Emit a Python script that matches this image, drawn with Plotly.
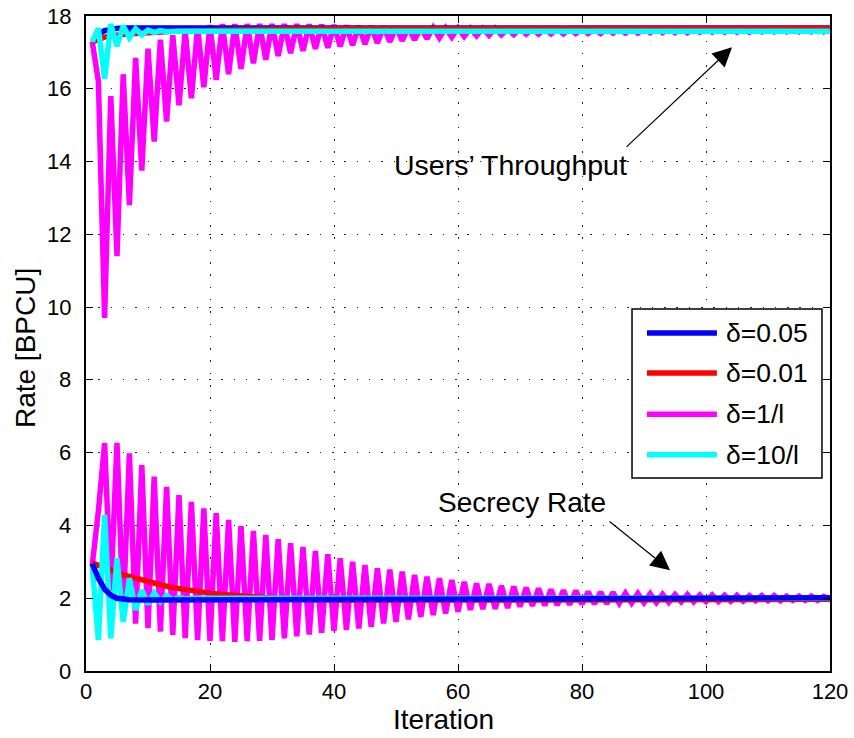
import plotly.graph_objects as go

# Iteration index for the oscillating (full-length) series
iterations = list(range(1, 121))

# delta = 1/l : secrecy rate per iteration
secrecy_inv_l = [
    2.90, 4.40, 6.26, 2.20, 6.27, 1.60, 5.98, 1.30, 5.66, 1.18,
    5.34, 1.08, 5.06, 0.99, 4.83, 0.90, 4.65, 0.85, 4.47, 0.83,
    4.34, 0.82, 4.15, 0.80, 3.98, 0.82, 3.85, 0.83, 3.74, 0.85,
    3.62, 0.90, 3.51, 0.95, 3.41, 1.00, 3.30, 1.05, 3.21, 1.10,
    3.10, 1.13, 3.00, 1.17, 2.91, 1.22, 2.82, 1.31, 2.79, 1.35,
    2.73, 1.42, 2.64, 1.49, 2.59, 1.54, 2.55, 1.58, 2.50, 1.63,
    2.45, 1.68, 2.41, 1.70, 2.39, 1.71, 2.34, 1.73, 2.32, 1.77,
    2.29, 1.79, 2.27, 1.80, 2.24, 1.81, 2.22, 1.82, 2.21, 1.83,
    2.18, 1.84, 2.17, 1.85, 2.16, 1.86, 2.14, 1.87, 2.13, 1.88,
    2.12, 1.88, 2.11, 1.89, 2.10, 1.90, 2.10, 1.90, 2.09, 1.91,
    2.09, 1.91, 2.08, 1.92, 2.08, 1.92, 2.07, 1.93, 2.07, 1.93,
    2.07, 1.93, 2.06, 1.94, 2.06, 1.94, 2.06, 1.94, 2.05, 1.95,
]

# delta = 1/l : users' throughput per iteration
throughput_inv_l = [
    17.30, 16.20, 9.70, 15.80, 11.40, 16.40, 12.80, 16.85, 13.75, 17.10,
    14.55, 17.35, 15.10, 17.47, 15.55, 17.60, 15.74, 17.70, 16.04, 17.75,
    16.24, 17.78, 16.40, 17.78, 16.55, 17.78, 16.70, 17.78, 16.80, 17.78,
    16.90, 17.78, 16.98, 17.78, 17.04, 17.77, 17.10, 17.76, 17.13, 17.75,
    17.16, 17.74, 17.20, 17.73, 17.23, 17.72, 17.26, 17.71, 17.29, 17.70,
    17.32, 17.69, 17.35, 17.68, 17.38, 17.68, 17.40, 17.67, 17.42, 17.67,
    17.44, 17.66, 17.46, 17.66, 17.47, 17.66, 17.48, 17.65, 17.49, 17.65,
    17.50, 17.65, 17.50, 17.65, 17.51, 17.65, 17.51, 17.65, 17.52, 17.65,
    17.52, 17.65, 17.52, 17.65, 17.53, 17.65, 17.53, 17.65, 17.53, 17.65,
    17.54, 17.65, 17.54, 17.65, 17.54, 17.65, 17.54, 17.65, 17.55, 17.65,
    17.55, 17.65, 17.55, 17.65, 17.55, 17.65, 17.55, 17.65, 17.56, 17.65,
    17.56, 17.65, 17.56, 17.65, 17.56, 17.65, 17.56, 17.65, 17.56, 17.65,
]

# delta = 10/l
iter_10l = [1, 2, 3, 4, 5, 6, 7, 8, 9, 10, 11, 12, 13, 14, 15, 16, 17, 120]
secrecy_10l = [2.90, 0.85, 4.29, 0.90, 3.10, 1.35, 2.55, 1.68, 2.22, 1.84,
               2.14, 1.90, 2.07, 1.95, 2.02, 1.98, 2.00, 2.00]
throughput_10l = [17.29, 17.66, 16.28, 17.78, 17.17, 17.73, 17.40, 17.65, 17.48, 17.61,
                  17.55, 17.60, 17.57, 17.59, 17.58, 17.58, 17.58, 17.58]

# delta = 0.05
iter_005 = [1, 2, 3, 4, 5, 6, 7, 10, 40, 60, 90, 120]
secrecy_005 = [2.95, 2.55, 2.25, 2.08, 2.00, 1.97, 1.96, 1.95, 1.96, 1.97, 1.99, 2.01]
throughput_005 = [17.29, 17.50, 17.60, 17.64, 17.66, 17.67, 17.67, 17.67, 17.67, 17.67, 17.67, 17.67]

# delta = 0.01
iter_001 = [1, 2, 3, 4, 5, 6, 7, 8, 10, 12, 14, 16, 18, 20, 22, 25, 28, 32, 36, 40, 60, 120]
secrecy_001 = [2.97, 2.90, 2.82, 2.75, 2.70, 2.64, 2.60, 2.55, 2.46, 2.37, 2.29, 2.23,
               2.18, 2.14, 2.10, 2.06, 2.02, 1.98, 1.96, 1.95, 1.95, 1.97]
throughput_001 = [17.29, 17.36, 17.42, 17.45, 17.48, 17.50, 17.51, 17.52, 17.55, 17.56, 17.58, 17.59,
                  17.60, 17.61, 17.62, 17.62, 17.63, 17.64, 17.64, 17.65, 17.65, 17.66]

legend_names = ["δ=0.05", "δ=0.01", "δ=1/l", "δ=10/l"]
colors = {"δ=0.05": "#0000ff", "δ=0.01": "#ff0000", "δ=1/l": "#ff00ff", "δ=10/l": "#00ffff"}

x_ticks = [0, 20, 40, 60, 80, 100, 120]
y_ticks = [0, 2, 4, 6, 8, 10, 12, 14, 16, 18]

FONT = "Liberation Sans, Arial, Helvetica, sans-serif"
LW = 5.5

fig = go.Figure()


def add_line(x, y, name):
    fig.add_trace(go.Scatter(x=x, y=y, mode="lines", showlegend=False, name=name,
                             line=dict(color=colors[name], width=LW), hoverinfo="skip"))


# throughput curves (upper band)
add_line(iterations, throughput_inv_l, "δ=1/l")
add_line(iter_005, throughput_005, "δ=0.05")
add_line(iter_001, throughput_001, "δ=0.01")
add_line(iter_10l, throughput_10l, "δ=10/l")
# secrecy-rate curves (lower band)
add_line(iterations, secrecy_inv_l, "δ=1/l")
add_line(iter_001, secrecy_001, "δ=0.01")
add_line(iter_10l, secrecy_10l, "δ=10/l")
add_line(iter_005, secrecy_005, "δ=0.05")

axis_common = dict(
    showline=True, linecolor="black", linewidth=1.5, mirror="ticks",
    ticks="inside", ticklen=7, tickwidth=1.2, tickcolor="black",
    showgrid=True, gridcolor="#222222", gridwidth=1.2, griddash="1.5px,10.8px",
    zeroline=False, automargin=False,
    tickfont=dict(family=FONT, size=22, color="black"),
)

fig.update_xaxes(range=[0, 120], tickvals=x_ticks, ticktext=[str(v) for v in x_ticks],
                 **axis_common)
fig.update_yaxes(range=[0, 18], tickvals=y_ticks, showticklabels=False, **axis_common)

# y tick labels, right-aligned just left of the axis
for v in y_ticks:
    fig.add_annotation(x=0, y=v, xref="paper", yref="y", text=str(v), showarrow=False,
                       xanchor="right", yanchor="middle", xshift=-13,
                       font=dict(family=FONT, size=22, color="black"))

# axis titles
fig.add_annotation(x=0.48, y=-0.0748, xref="paper", yref="paper", text="Iteration", showarrow=False,
                   xanchor="center", yanchor="middle", font=dict(family=FONT, size=28, color="black"))
fig.add_annotation(x=-0.082, y=0.493, xref="paper", yref="paper", text="Rate [BPCU]", showarrow=False,
                   textangle=-90, xanchor="center", yanchor="middle",
                   font=dict(family=FONT, size=28, color="black"))

# text labels with arrows
fig.add_annotation(x=68.5, y=13.9, xref="x", yref="y", text="Users’ Throughput", showarrow=False,
                   font=dict(family=FONT, size=28.5, color="black"))
fig.add_annotation(x=104.2, y=17.14, xref="x", yref="y", text="", showarrow=True,
                   ax=-107, ay=101, arrowhead=2, arrowsize=3.2, arrowwidth=1.2, arrowcolor="black")
fig.add_annotation(x=70.3, y=4.62, xref="x", yref="y", text="Secrecy Rate", showarrow=False,
                   font=dict(family=FONT, size=28, color="black"))
fig.add_annotation(x=94.2, y=2.77, xref="x", yref="y", text="", showarrow=True,
                   ax=-62, ay=-50, arrowhead=2, arrowsize=3.2, arrowwidth=1.2, arrowcolor="black")

# legend box drawn in paper coordinates
fig.add_shape(type="rect", xref="paper", yref="paper", x0=0.7339, x1=0.9892, y0=0.2947, y1=0.5527,
              line=dict(color="black", width=1.5), fillcolor="white", layer="above")
row_y = [0.516, 0.455, 0.392, 0.330]
for name, yy in zip(legend_names, row_y):
    fig.add_shape(type="line", xref="paper", yref="paper", x0=0.754, x1=0.848, y0=yy, y1=yy,
                  line=dict(color=colors[name], width=LW), layer="above")
    fig.add_annotation(x=0.857, y=yy, xref="paper", yref="paper", text=name, showarrow=False,
                       xanchor="left", yanchor="middle",
                       font=dict(family=FONT, size=26.5, color="black"))

fig.update_layout(
    width=854, height=738,
    margin=dict(l=86, r=24, t=16, b=67),
    paper_bgcolor="white", plot_bgcolor="white",
    showlegend=False,
)

fig.write_html("out.html")
